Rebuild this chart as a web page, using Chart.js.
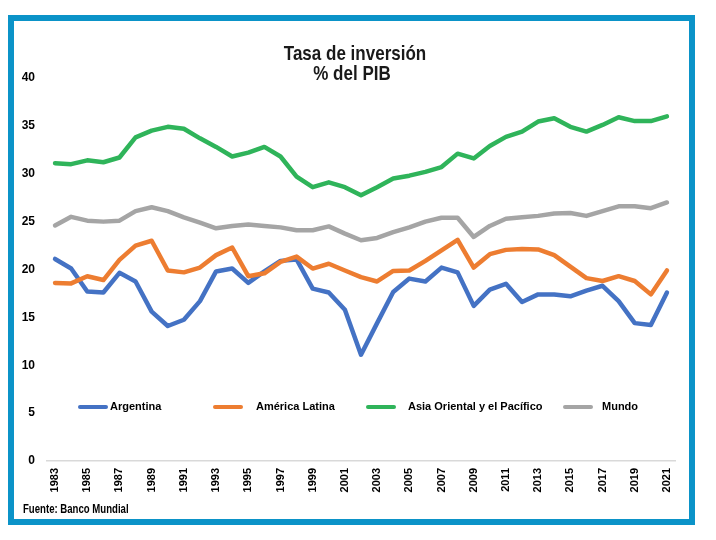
<!DOCTYPE html>
<html>
<head>
<meta charset="utf-8">
<script src="https://cdn.jsdelivr.net/npm/chart.js@4"></script>
<style>
  body { margin: 0; background: #fff; }
  #wrap { position: relative; width: 716px; height: 540px; }
  #frame {
    position: absolute; left: 8px; top: 15px; width: 687px; height: 510px;
    border: 6px solid #0b93c8; box-sizing: border-box; pointer-events: none;
  }
</style>
</head>
<body>
<div id="wrap">
  <canvas id="chart" width="716" height="540"></canvas>
  <div id="frame"></div>
</div>
<script>
const years = [];
for (let y = 1983; y <= 2021; y++) years.push(String(y));

const argentina = [21.1, 20.1, 17.7, 17.6, 19.65, 18.75, 15.6, 14.1, 14.75, 16.7,
  19.8, 20.1, 18.6, 19.8, 20.9, 21.05, 18.0, 17.6, 15.8, 11.1,
  14.4, 17.65, 19.05, 18.75, 20.2, 19.7, 16.2, 17.9, 18.5, 16.6,
  17.4, 17.4, 17.2, 17.8, 18.3, 16.7, 14.4, 14.2, 17.6];
const americaLatina = [18.6, 18.55, 19.3, 18.9, 21.0, 22.5, 23.0, 19.9, 19.7, 20.2,
  21.5, 22.3, 19.3, 19.6, 20.8, 21.35, 20.1, 20.6, 19.9, 19.2,
  18.75, 19.85, 19.9, 20.9, 22.0, 23.1, 20.2, 21.6, 22.05, 22.15,
  22.1, 21.5, 20.3, 19.1, 18.8, 19.3, 18.8, 17.4, 19.9];
const asiaPacifico = [31.1, 31.0, 31.4, 31.2, 31.7, 33.8, 34.5, 34.9, 34.7, 33.7,
  32.8, 31.8, 32.2, 32.8, 31.8, 29.7, 28.6, 29.1, 28.6, 27.75,
  28.6, 29.5, 29.8, 30.2, 30.7, 32.1, 31.6, 32.9, 33.85, 34.4,
  35.45, 35.8, 34.9, 34.4, 35.1, 35.9, 35.5, 35.5, 36.0];
const mundo = [24.6, 25.5, 25.1, 25.0, 25.1, 26.1, 26.5, 26.1, 25.45, 24.9,
  24.3, 24.55, 24.7, 24.55, 24.4, 24.1, 24.1, 24.5, 23.75, 23.05,
  23.3, 23.9, 24.4, 25.0, 25.4, 25.4, 23.4, 24.55, 25.3, 25.45,
  25.6, 25.85, 25.9, 25.6, 26.1, 26.6, 26.6, 26.4, 27.0];

const seriesNames = ["Argentina", "América Latina", "Asia Oriental y el Pacífico", "Mundo"];
const seriesColors = ["#4472c4", "#ed7d31", "#2fb45a", "#a5a5a5"];
const titleLines = ["Tasa de inversión", "% del PIB"];
const sourceText = "Fuente: Banco Mundial";

const regular = '"Liberation Sans", Arial, sans-serif';

// text squeezed sideways to look like Arial Narrow (not installed)
function narrowText(ctx, text, x, y, squeeze) {
  ctx.save();
  ctx.scale(squeeze, 1);
  ctx.fillText(text, x / squeeze, y);
  ctx.restore();
}

// title, legend and source are painted at fixed spots like the Excel original
const extras = {
  id: "extras",
  afterDraw(chart) {
    const ctx = chart.ctx;
    ctx.save();
    ctx.fillStyle = "#1a1a1a";
    ctx.textAlign = "center";
    ctx.textBaseline = "alphabetic";
    ctx.font = "bold 21px " + regular;
    narrowText(ctx, titleLines[0], 355, 60, 0.81);
    narrowText(ctx, titleLines[1], 352, 80, 0.81);

    const sx = [78, 213, 366, 563];
    const tx = [110, 256, 408, 602];
    ctx.font = "bold 11px " + regular;
    ctx.textAlign = "left";
    ctx.textBaseline = "middle";
    chart.data.datasets.forEach((ds, i) => {
      ctx.strokeStyle = ds.borderColor;
      ctx.lineWidth = 4;
      ctx.lineCap = "round";
      ctx.beginPath();
      ctx.moveTo(sx[i] + 2, 407);
      ctx.lineTo(sx[i] + 28, 407);
      ctx.stroke();
      ctx.fillStyle = "#000";
      ctx.fillText(ds.label, tx[i], 407);
    });

    ctx.textBaseline = "alphabetic";
    ctx.font = "bold 12px " + regular;
    narrowText(ctx, sourceText, 23, 513, 0.8);
    ctx.restore();
  }
};

const ctx = document.getElementById("chart").getContext("2d");
new Chart(ctx, {
  type: "line",
  data: {
    labels: years,
    datasets: [argentina, americaLatina, asiaPacifico, mundo].map((d, i) => ({
      label: seriesNames[i],
      data: d,
      borderColor: seriesColors[i],
      backgroundColor: seriesColors[i],
      borderWidth: 4.5,
      borderJoinStyle: "round",
      borderCapStyle: "round",
      pointRadius: 0,
      tension: 0,
      order: 3 - i,
    })),
  },
  options: {
    responsive: false,
    animation: false,
    layout: { padding: { left: 7, right: 41, top: 78, bottom: 39 } },
    plugins: {
      legend: { display: false },
      title: { display: false },
      tooltip: { enabled: false },
    },
    scales: {
      x: {
        offset: true,
        grid: { display: false, drawTicks: false },
        border: { display: true, color: "#d9d9d9", width: 1.5 },
        afterFit: (s) => { s.height = 40; },
        ticks: {
          autoSkip: false,
          minRotation: 90,
          maxRotation: 90,
          padding: 7,
          color: "#000",
          font: { family: regular, size: 11, weight: "bold" },
          callback: (v, i) => (i % 2 === 0 ? years[i] : ""),
        },
      },
      y: {
        min: 0,
        max: 40,
        grid: { display: false, drawTicks: false },
        border: { display: false },
        afterFit: (s) => { s.width = 40; },
        ticks: {
          stepSize: 5,
          padding: 12,
          color: "#000",
          font: { family: regular, size: 12, weight: "bold" },
        },
      },
    },
  },
  plugins: [extras],
});
</script>
</body>
</html>
